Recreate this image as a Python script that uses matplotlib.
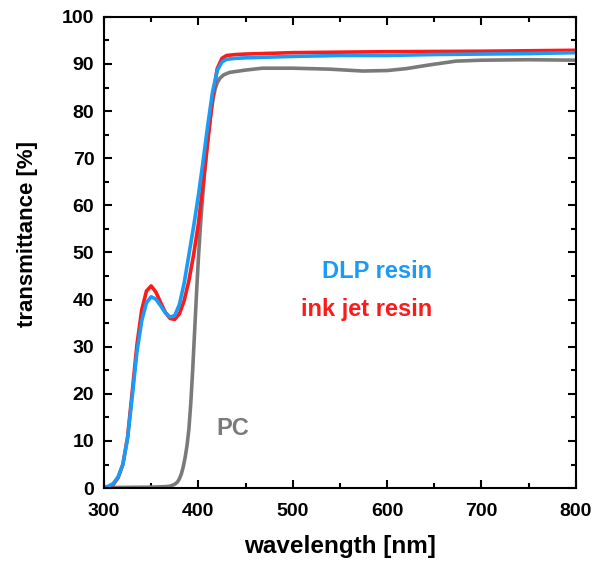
import matplotlib
matplotlib.use('Agg')
import matplotlib.pyplot as plt
from matplotlib.ticker import MultipleLocator

plt.rcParams['font.family'] = 'Liberation Sans'
plt.rcParams['font.weight'] = 'bold'

# DLP resin (blue)
wl_dlp = [300, 305, 310, 315, 320, 325, 330, 335, 340, 345, 350, 355, 360, 365, 370,
          375, 380, 385, 390, 395, 400, 405, 410, 415, 420, 425, 430, 440, 450, 500,
          550, 600, 650, 700, 750, 800]
t_dlp = [0.2, 0.4, 1.0, 2.4, 5.0, 10.5, 19.5, 29.0, 35.5, 39.3, 40.6, 40.1, 38.7, 37.2, 36.3,
         36.6, 39.0, 43.5, 49.5, 55.5, 62.0, 69.3, 77.0, 84.0, 88.6, 90.4, 91.0, 91.2, 91.3, 91.6,
         91.8, 91.8, 92.0, 92.1, 92.2, 92.4]

# ink jet resin (red)
wl_ink = [300, 305, 310, 315, 320, 325, 330, 335, 340, 345, 350, 355, 360, 365, 370,
          375, 380, 385, 390, 395, 400, 405, 410, 415, 420, 425, 430, 440, 450, 500,
          600, 700, 800]
t_ink = [0.0, 0.2, 0.8, 2.2, 5.0, 10.8, 20.5, 30.5, 37.8, 41.8, 42.9, 41.6, 39.4, 37.3, 36.0,
         35.8, 37.0, 39.8, 44.0, 49.5, 56.0, 64.5, 73.5, 82.5, 89.0, 91.2, 91.8, 92.0, 92.1, 92.4,
         92.6, 92.7, 92.9]

# PC (gray)
wl_pc = [300, 350, 365, 370, 375, 378, 380, 382, 384, 386, 388, 390, 392, 394, 396,
         398, 400, 402, 404, 406, 408, 410, 412, 414, 416, 418, 420, 423, 427, 433,
         450, 468, 500, 539, 574, 600, 620, 645, 673, 700, 750, 800]
t_pc = [0.1, 0.2, 0.3, 0.4, 0.8, 1.3, 2.0, 3.0, 4.5, 6.5, 9.0, 12.5, 18.0, 25.0, 33.0,
        41.0, 48.5, 55.0, 60.5, 65.5, 70.0, 74.0, 77.5, 80.5, 83.0, 84.8, 86.0, 87.0, 87.7, 88.2,
        88.7, 89.1, 89.1, 88.9, 88.5, 88.6, 89.0, 89.8, 90.6, 90.8, 90.9, 90.8]

c_dlp = '#1a9bf5'
c_ink = '#ff1a1a'
c_pc = '#7a7a7a'

fig = plt.figure(figsize=(6.01, 5.61), dpi=100)
ax = fig.add_axes([0.173, 0.130, 0.785, 0.840])

ax.plot(wl_pc, t_pc, color=c_pc, lw=2.6)
ax.plot(wl_ink, t_ink, color=c_ink, lw=2.6)
ax.plot(wl_dlp, t_dlp, color=c_dlp, lw=2.6)

ax.text(589, 45.9, 'DLP resin', color=c_dlp, fontsize=17, fontweight='bold', ha='center', va='center')
ax.text(578, 37.8, 'ink jet resin', color=c_ink, fontsize=17, fontweight='bold', ha='center', va='center')
ax.text(437, 12.7, 'PC', color=c_pc, fontsize=17, fontweight='bold', ha='center', va='center')

ax.set_xlim(300, 800)
ax.set_ylim(0, 100)
ax.xaxis.set_major_locator(MultipleLocator(100))
ax.xaxis.set_minor_locator(MultipleLocator(50))
ax.yaxis.set_major_locator(MultipleLocator(10))
ax.yaxis.set_minor_locator(MultipleLocator(5))
ax.tick_params(which='both', direction='in', top=True, right=True, width=1.5, labelsize=14)
ax.tick_params(which='major', length=6)
ax.tick_params(which='minor', length=3.5)
ax.tick_params(axis='x', which='both', pad=11)
ax.tick_params(axis='y', which='both', pad=7)
for s in ax.spines.values():
    s.set_linewidth(1.5)

ax.set_xlabel('wavelength [nm]', fontsize=17.5, fontweight='bold')
ax.set_ylabel('transmittance [%]', fontsize=16, fontweight='bold')
ax.xaxis.set_label_coords(0.5, -0.10)
ax.yaxis.set_label_coords(-0.140, 0.539)

fig.savefig('out.png', dpi=100)
